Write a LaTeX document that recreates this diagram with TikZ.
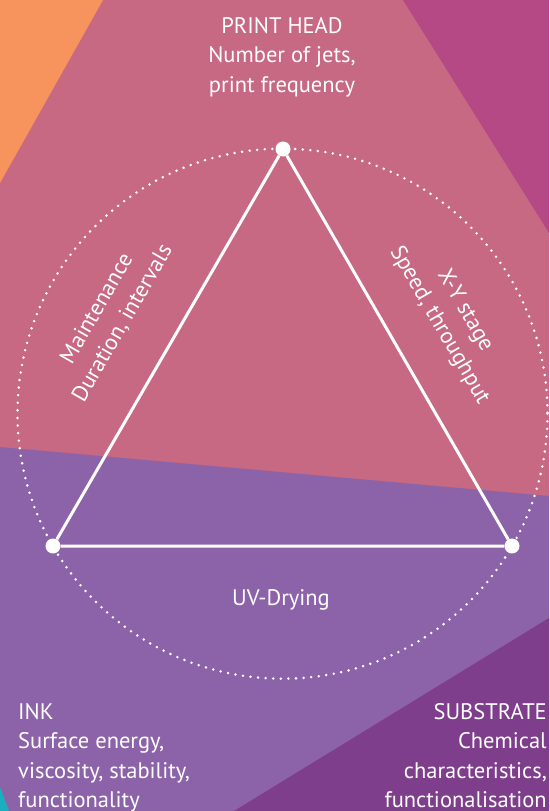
\documentclass[tikz,border=0pt]{standalone}
\usepackage{fontspec}
\setmainfont{PT Sans}
\definecolor{pinkbg}{HTML}{C76982}
\definecolor{orangebg}{HTML}{F7945E}
\definecolor{magentabg}{HTML}{B54985}
\definecolor{purplebg}{HTML}{8C63A8}
\definecolor{darkpurple}{HTML}{7E3E8C}
\definecolor{tealbg}{HTML}{1AAFC0}
\tikzset{
  lbl/.style={text=white, inner sep=0pt, font=\fontsize{22.5}{29.5}\selectfont},
  vertexdot/.style={circle, fill=white, minimum size=15pt, inner sep=0pt},
  edge/.style={draw=white, line width=3pt},
  dotring/.style={draw=white, line width=2.8pt, line cap=round, dash pattern=on 0pt off 7.6pt}
}
\begin{document}
\begin{tikzpicture}[x=1pt,y=-1pt]
\path[use as bounding box] (0,0) rectangle (549,811);
\fill[pinkbg] (0,0) rectangle (549,811);
\fill[orangebg] (0,0) -- (103,0) -- (0,183) -- cycle;
\fill[magentabg] (403,0) -- (549,0) -- (549,233) -- cycle;
\fill[purplebg] (0,447) -- (549,496) -- (549,811) -- (0,811) -- cycle;
\fill[darkpurple] (549,618) -- (549,811) -- (234,811) -- cycle;
\fill[tealbg] (0,787) -- (9,811) -- (0,811) -- cycle;

\coordinate (c) at (282.5,413.7);
\draw[dotring] (c) circle[radius=265];

\node[vertexdot] (top) at (283,149) {};
\node[vertexdot] (left) at (53,546) {};
\node[vertexdot] (right) at (512,546) {};
\draw[edge] (top) -- (left) -- (right) -- (top);

\node[lbl, anchor=north, align=center] (ph) at (282,17) {PRINT HEAD\\Number of jets,\\print frequency};
\node[lbl, anchor=north west, align=left] (ink) at (18,703) {INK\\Surface energy,\\viscosity, stability,\\functionality};
\node[lbl, anchor=north east, align=right] (sub) at (547,703) {SUBSTRATE\\Chemical\\characteristics,\\functionalisation};
\node[lbl, rotate=60, align=center] (maint) at (110,316) {Maintenance\\Duration, intervals};
\node[lbl, rotate=-60, align=center] (xy) at (452,318) {X-Y stage\\Speed, throughput};
\node[lbl] (uv) at (281,600) {UV-Drying};
\end{tikzpicture}
\end{document}
